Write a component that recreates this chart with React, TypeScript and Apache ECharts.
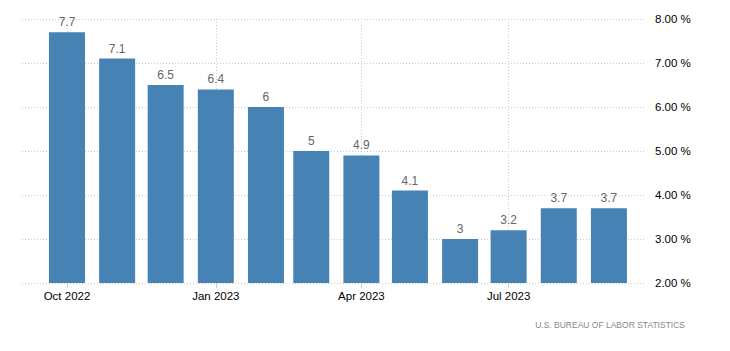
import React, { useEffect, useRef } from "react";
import * as echarts from "echarts";

const months = [
  "2022-10-01", "2022-11-01", "2022-12-01", "2023-01-01", "2023-02-01", "2023-03-01",
  "2023-04-01", "2023-05-01", "2023-06-01", "2023-07-01", "2023-08-01", "2023-09-01",
];
const values = [7.7, 7.1, 6.5, 6.4, 6, 5, 4.9, 4.1, 3, 3.2, 3.7, 3.7];
const tickDates = ["2022-10-01", "2023-01-01", "2023-04-01", "2023-07-01"];
const tickLabels = ["Oct 2022", "Jan 2023", "Apr 2023", "Jul 2023"];
const yTicks = [2, 3, 4, 5, 6, 7, 8];
const sourceText = "U.S. BUREAU OF LABOR STATISTICS";

const DAY = 86400000;
const toTime = (s: string) => {
  const [y, m, d] = s.split("-").map(Number);
  return Date.UTC(y, m - 1, d);
};
const origin = toTime(months[0]);
const toDay = (s: string) => Math.round((toTime(s) - origin) / DAY);

const FONT = "'Liberation Sans', Arial, sans-serif";

export default function App() {
  const ref = useRef<HTMLDivElement>(null);
  useEffect(() => {
    if (!ref.current) return;
    const chart = echarts.init(ref.current, null, { renderer: "svg" });
    const xMin = -27.8;
    const xMax = xMin + 385.1;
    const tickDays = tickDates.map(toDay);
    chart.setOption({
      animation: false,
      grid: { left: 22, right: 85, top: 19, bottom: 68, containLabel: false },
      xAxis: {
        type: "value",
        min: xMin,
        max: xMax,
        axisLine: { show: false },
        axisTick: {
          show: true,
          length: 5,
          customValues: tickDays,
          lineStyle: { color: "#ccc" },
        },
        axisLabel: {
          customValues: tickDays,
          formatter: (v: number) => {
            const i = tickDays.indexOf(Math.round(v));
            return i >= 0 ? tickLabels[i] : "";
          },
          color: "#000",
          fontSize: 11.5,
          fontFamily: FONT,
          margin: 7,
        },
        splitLine: {
          show: true,
          lineStyle: { color: "#ccc", type: [1, 2], width: 1 },
        },
      },
      yAxis: {
        type: "value",
        position: "right",
        min: yTicks[0],
        max: yTicks[yTicks.length - 1],
        interval: 1,
        axisLine: { show: false },
        axisTick: { show: false },
        axisLabel: {
          formatter: (v: number) => v.toFixed(2) + " %",
          color: "#000",
          fontSize: 11.5,
          fontFamily: FONT,
          margin: 10,
        },
        splitLine: { show: true, lineStyle: { color: "#ccc", type: [1, 2], width: 1 } },
      },
      series: [
        {
          type: "bar",
          barWidth: 36,
          data: months.map((m, i) => [toDay(m), values[i]]),
          itemStyle: { color: "#4682B4" },
          label: {
            show: true,
            position: "top",
            distance: 4,
            color: "#666",
            fontSize: 12,
            fontFamily: FONT,
            formatter: (p: any) => String(p.value[1]),
          },
        },
      ],
      graphic: [
        {
          type: "text",
          right: 45,
          top: 320,
          style: {
            text: sourceText,
            fill: "#888",
            fontSize: 8.5,
            fontFamily: FONT,
          },
        },
      ],
    });
    return () => chart.dispose();
  }, []);
  return <div ref={ref} style={{ width: 730, height: 351, margin: -8 }} />;
}
